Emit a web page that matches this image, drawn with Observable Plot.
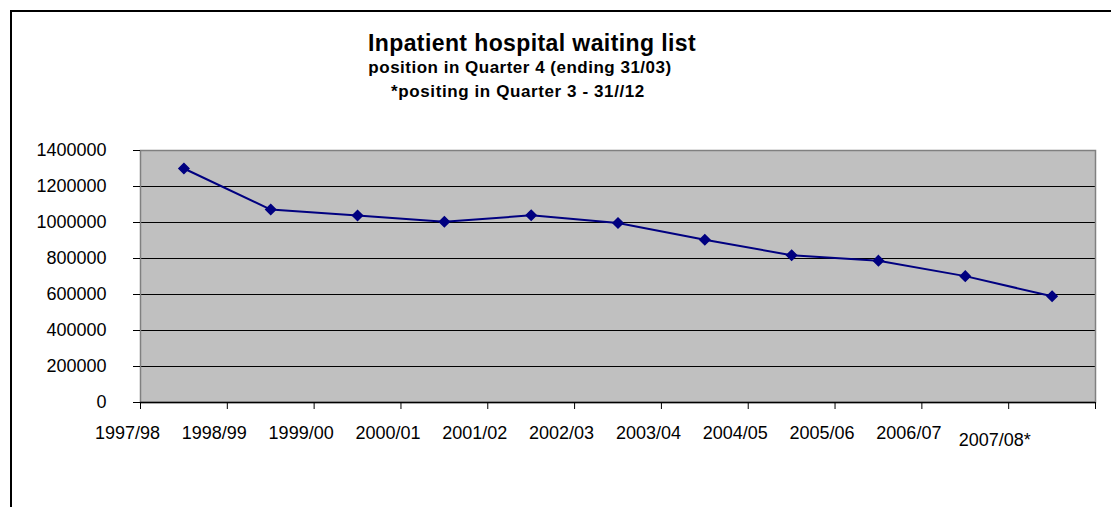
<!DOCTYPE html>
<html><head><meta charset="utf-8">
<script src="https://cdn.jsdelivr.net/npm/d3@7"></script>
<script src="https://cdn.jsdelivr.net/npm/@observablehq/plot@0.6"></script>
<style>
html,body{margin:0;padding:0;background:#fff;overflow:hidden;}
#wrap{position:relative;width:1111px;height:507px;overflow:hidden;font-family:"Liberation Sans",Arial,sans-serif;background:#fff;}
#chart{position:absolute;left:0;top:0;}
#border{position:absolute;left:10px;top:10px;width:1300px;height:700px;border:2px solid #000;box-sizing:border-box;}
.t{position:absolute;transform:translateX(-50%);white-space:nowrap;font-weight:bold;line-height:1;color:#000;}
</style></head><body>
<div id="wrap">
<div id="chart"></div>
<div id="border"></div>
<div class="t" id="title" style="left:532px;top:32px;font-size:23px;letter-spacing:0.4px"></div>
<div class="t" id="sub1" style="left:520px;top:59px;font-size:17px;letter-spacing:0.5px"></div>
<div class="t" id="sub2" style="left:518px;top:83px;font-size:17px;letter-spacing:0.6px"></div>
</div>
<script>
const titleText = "Inpatient hospital waiting list";
const subtitle1 = "position in Quarter 4 (ending 31/03)";
const subtitle2 = "*positing in Quarter 3 - 31//12";

const periods = ["1997/98","1998/99","1999/00","2000/01","2001/02","2002/03","2003/04","2004/05","2005/06","2006/07","2007/08*"];
const waiting = [1300000, 1072000, 1039000, 1004000, 1040000, 997000, 904000, 818000, 788000, 702000, 590000];
const yTicks = [0, 200000, 400000, 600000, 800000, 1000000, 1200000, 1400000];

document.getElementById("title").textContent = titleText;
document.getElementById("sub1").textContent = subtitle1;
document.getElementById("sub2").textContent = subtitle2;

const idx = d3.range(periods.length);
const boundaries = d3.range(periods.length + 1);
const last = periods.length - 1;

const chart = Plot.plot({
  width: 1111,
  height: 507,
  marginLeft: 140,
  marginRight: 16,
  marginTop: 150,
  marginBottom: 105,
  style: {fontFamily: "'Liberation Sans', Arial, sans-serif", fontSize: "18px", background: "transparent", color: "#000"},
  x: {domain: [0, periods.length], axis: null},
  y: {domain: [0, 1400000], axis: null},
  marks: [
    Plot.frame({fill: "#c0c0c0", stroke: null}),
    Plot.ruleY(yTicks.filter(v => v > 0 && v < 1400000), {stroke: "#000", strokeWidth: 1}),
    Plot.frame({stroke: "#808080", strokeWidth: 1.5}),
    Plot.ruleY([0], {stroke: "#000", strokeWidth: 1.5}),
    Plot.axisY({ticks: yTicks, tickFormat: d => String(d), tickSize: 7, tickPadding: 27, fontSize: 18, label: null, stroke: "#000"}),
    Plot.axisX({ticks: boundaries, tickFormat: () => "", tickSize: 7, label: null, stroke: "#000"}),
    Plot.line(idx, {x: i => i + 0.5, y: i => waiting[i], stroke: "#000080", strokeWidth: 2}),
    Plot.dot(idx, {x: i => i + 0.5, y: i => waiting[i], symbol: "diamond2", r: 4.5, fill: "#000080", stroke: "#000080"}),
    Plot.text(idx.filter(i => i < last), {x: i => i, text: i => periods[i], frameAnchor: "bottom", lineAnchor: "middle", dy: 31, dx: -13, fontSize: 18, fill: "#000"}),
    Plot.text([last], {x: i => i, text: i => periods[i], frameAnchor: "bottom", lineAnchor: "middle", dy: 38, dx: -14, fontSize: 18, fill: "#000"})
  ]
});
document.getElementById("chart").appendChild(chart);
</script>
</body></html>
